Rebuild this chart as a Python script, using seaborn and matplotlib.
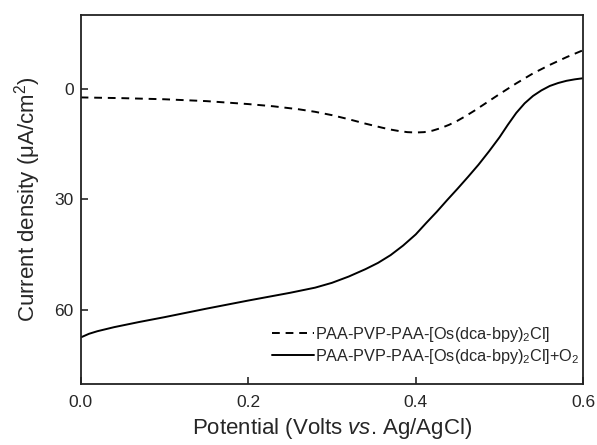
import matplotlib
matplotlib.use("Agg")
import matplotlib.pyplot as plt
import seaborn as sns
import pandas as pd

# potential (V vs Ag/AgCl) and current density (uA/cm2)
potential_no_o2 = [0.0, 0.05, 0.10, 0.15, 0.20, 0.23, 0.26, 0.28, 0.30, 0.32, 0.34, 0.36,
                   0.37, 0.38, 0.39, 0.40, 0.41, 0.42, 0.43, 0.44, 0.45, 0.46, 0.47,
                   0.48, 0.49, 0.50, 0.52, 0.54, 0.56, 0.58, 0.60]
current_no_o2 = [2.4, 2.6, 2.9, 3.4, 4.2, 4.8, 5.6, 6.3, 7.2, 8.3, 9.5, 10.6,
                 11.1, 11.5, 11.8, 11.9, 11.8, 11.4, 10.7, 9.8, 8.7, 7.4, 6.0,
                 4.5, 3.0, 1.5, -1.4, -4.1, -6.4, -8.5, -10.4]

potential_o2 = [0.0, 0.01, 0.02, 0.04, 0.07, 0.10, 0.15, 0.20, 0.25, 0.28, 0.30, 0.32,
                0.34, 0.355, 0.37, 0.385, 0.40, 0.4125, 0.425, 0.4375, 0.45, 0.4625,
                0.475, 0.4875, 0.50, 0.51, 0.52, 0.53, 0.54, 0.55, 0.56, 0.57, 0.58,
                0.59, 0.60]
current_o2 = [67.4, 66.4, 65.7, 64.6, 63.2, 61.9, 59.6, 57.4, 55.3, 53.9, 52.6, 50.9,
              48.9, 47.2, 45.1, 42.5, 39.5, 36.4, 33.4, 30.2, 27.1, 23.9,
              20.6, 17.0, 13.2, 9.8, 6.6, 4.0, 2.0, 0.5, -0.7, -1.5, -2.1,
              -2.5, -2.8]

label_no_o2 = "PAA-PVP-PAA-[Os(dca-bpy)$_2$Cl]"
label_o2 = "PAA-PVP-PAA-[Os(dca-bpy)$_2$Cl]+O$_2$"

sns.set_style("ticks")
plt.rcParams["font.family"] = ["Liberation Sans", "DejaVu Sans"]
plt.rcParams["mathtext.fontset"] = "custom"
plt.rcParams["mathtext.rm"] = "Liberation Sans"
plt.rcParams["mathtext.it"] = "Liberation Sans:italic"

df1 = pd.DataFrame({"E": potential_no_o2, "j": current_no_o2})
df2 = pd.DataFrame({"E": potential_o2, "j": current_o2})

fig, ax = plt.subplots(figsize=(5.97, 4.45), dpi=100)
fig.subplots_adjust(left=0.135, right=0.977, top=0.967, bottom=0.137)

sns.lineplot(data=df1, x="E", y="j", ax=ax, color="black", linestyle=(0, (4, 3)),
             linewidth=1.4, label=label_no_o2)
sns.lineplot(data=df2, x="E", y="j", ax=ax, color="black", linewidth=1.4, label=label_o2)

ax.set_xlim(0.0, 0.6)
ax.set_ylim(80, -20)
ax.set_xticks([0.0, 0.2, 0.4, 0.6])
ax.set_yticks([0, 30, 60])
ax.set_xticklabels(["0.0", "0.2", "0.4", "0.6"])
ax.tick_params(direction="in", length=5, width=1.2, labelsize=12.5,
               top=False, right=False)
ax.tick_params(axis="x", pad=8)
ax.tick_params(axis="y", pad=5)
for s in ax.spines.values():
    s.set_linewidth(1.3)
    s.set_color("#222222")

ax.set_xlabel("Potential (Volts $\\mathit{vs}$. Ag/AgCl)", fontsize=16, labelpad=4)
ax.set_ylabel("Current density ($\\mathrm{\\mu}$A/cm$^2$)", fontsize=16, labelpad=8)

leg = ax.legend(loc="lower right", bbox_to_anchor=(1.0, 0.04), frameon=False,
                fontsize=11.7, handlelength=2.6, handletextpad=0.1,
                borderaxespad=0, borderpad=0.2, labelspacing=0.2)

plt.savefig("out.png", dpi=100)
